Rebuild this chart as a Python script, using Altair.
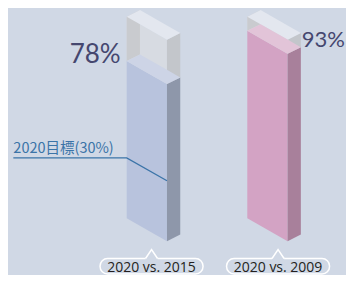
import altair as alt
import pandas as pd

# ---- data ----
labels = ["2020 vs. 2015", "2020 vs. 2009"]
values = [78, 93]
value_text = ["78%", "93%"]
target_value = 30
target_text = "2020目標(30%)"
full_scale = 100

# ---- styles ----
BG = "#d0d8e5"
front_colors = ["#b8c3dd", "#d3a3c4"]
side_colors = ["#8e97aa", "#a8809b"]
top_colors = ["#cdd4e6", "#e2c4d8"]
GLASS_FRONT = "#d7dbe2"
GLASS_STRIP = "#c9cbcf"
GLASS_SIDE = "#c3c6cb"
GLASS_TOP = "#e3e7ef"
LABEL_COLOR = "#45476f"
TARGET_COLOR = "#3b74a8"

# ---- geometry (x in bar-slot units, y in percent units) ----
W = 0.334   # front face width
D = 0.110   # depth
S = 11.4    # front face skew (drop across width)
R = 3.3     # side rise across depth
X_DOMAIN = [-0.9842, 1.8184]
Y_DOMAIN = [-28.13, 104.32]
PILL_CENTER = [0.206, 1.255]
PILL_HALF = 0.427
PILL_TOP = -19.94
PILL_BOTTOM = -27.63
NOTCH_H = 4.46
NOTCH_HALF = 0.05
TARGET_START = -0.940

xs = alt.Scale(domain=X_DOMAIN, nice=False, zero=False)
ys = alt.Scale(domain=Y_DOMAIN, nice=False, zero=False)


def front(L, lo, hi):
    return [(L, hi, lo), (L + W, hi - S, lo - S)]


def side(L, lo, hi):
    return [(L + W, hi - S, lo - S), (L + W + D, hi - S + R, lo - S + R)]


def strip(L, lo, hi):
    return [(L, hi, lo), (L + D, hi + R, lo + R)]


def top(L, h):
    return [
        (L, h, h),
        (L + D, h + R, h - S * D / W),
        (L + W, h + R - S * (W - D) / W, h - S),
        (L + W + D, h - S + R, h - S + R),
    ]


def face_layer(rows):
    df = pd.DataFrame(rows, columns=["x", "y", "y2", "key", "c"])
    return alt.Chart(df).mark_area(interpolate="linear").encode(
        x=alt.X("x:Q", scale=xs, axis=None),
        y=alt.Y("y:Q", scale=ys, axis=None, stack=None),
        y2="y2:Q",
        detail="key:N",
        color=alt.Color("c:N", scale=None),
    )


def build(fn, colorfn):
    rows = []
    for i, v in enumerate(values):
        for (x, y, y2) in fn(i, v):
            rows.append((x, y, y2, f"b{i}", colorfn(i)))
    return face_layer(rows)


layers = [
    build(lambda i, v: front(i, v, full_scale), lambda i: GLASS_FRONT),
    build(lambda i, v: strip(i, v, full_scale), lambda i: GLASS_STRIP),
    build(lambda i, v: side(i, v, full_scale), lambda i: GLASS_SIDE),
    build(lambda i, v: top(i, full_scale), lambda i: GLASS_TOP),
    build(lambda i, v: front(i, 0, v), lambda i: front_colors[i]),
    build(lambda i, v: side(i, 0, v), lambda i: side_colors[i]),
    build(lambda i, v: top(i, v), lambda i: top_colors[i]),
]

# target line
tdf = pd.DataFrame({
    "x": [TARGET_START, 0, W],
    "y": [target_value, target_value, target_value - S],
})
layers.append(alt.Chart(tdf).mark_line(color=TARGET_COLOR, strokeWidth=1.3).encode(
    x=alt.X("x:Q", scale=xs), y=alt.Y("y:Q", scale=ys)))
layers.append(alt.Chart(pd.DataFrame({"x": [TARGET_START], "y": [target_value], "t": [target_text]}))
              .mark_text(align="left", baseline="alphabetic", dy=-5, font="Noto Sans CJK JP",
                         fontSize=14.5, color=TARGET_COLOR)
              .encode(x=alt.X("x:Q", scale=xs), y=alt.Y("y:Q", scale=ys), text="t:N"))

# value labels
l0 = pd.DataFrame({"x": [0.0], "y": [values[0]], "t": [value_text[0]]})
layers.append(alt.Chart(l0).mark_text(align="right", baseline="alphabetic", dx=-6, dy=2,
                                      font="Lato", fontSize=26, color=LABEL_COLOR)
              .encode(x=alt.X("x:Q", scale=xs), y=alt.Y("y:Q", scale=ys), text="t:N"))
l1 = pd.DataFrame({"x": [1 + W + D], "y": [values[1] - S + R], "t": [value_text[1]]})
layers.append(alt.Chart(l1).mark_text(align="left", baseline="alphabetic", dx=1,
                                      font="Lato", fontSize=22, color=LABEL_COLOR)
              .encode(x=alt.X("x:Q", scale=xs), y=alt.Y("y:Q", scale=ys), text="t:N"))

# pills
pdf = pd.DataFrame({
    "x": [c - PILL_HALF for c in PILL_CENTER],
    "x2": [c + PILL_HALF for c in PILL_CENTER],
    "y": [PILL_TOP] * 2, "y2": [PILL_BOTTOM] * 2,
    "xc": PILL_CENTER, "yc": [(PILL_TOP + PILL_BOTTOM) / 2] * 2,
    "t": labels,
})
layers.append(alt.Chart(pdf).mark_rect(fillOpacity=0, stroke="white", strokeWidth=1.5, cornerRadius=7.5)
              .encode(x=alt.X("x:Q", scale=xs), x2="x2:Q", y=alt.Y("y:Q", scale=ys), y2="y2:Q"))
nrows = []
for i, c in enumerate(PILL_CENTER):
    nrows += [(c - NOTCH_HALF, PILL_TOP, PILL_TOP - 0.8, f"n{i}"),
              (c, PILL_TOP + NOTCH_H, PILL_TOP - 0.8, f"n{i}"),
              (c + NOTCH_HALF, PILL_TOP, PILL_TOP - 0.8, f"n{i}")]
ndf = pd.DataFrame(nrows, columns=["x", "y", "y2", "key"])
layers.append(alt.Chart(ndf).mark_area(color=BG, interpolate="linear").encode(
    x=alt.X("x:Q", scale=xs), y=alt.Y("y:Q", scale=ys, stack=None), y2="y2:Q", detail="key:N"))
layers.append(alt.Chart(ndf).mark_line(color="white", strokeWidth=1.5).encode(
    x=alt.X("x:Q", scale=xs), y=alt.Y("y:Q", scale=ys), detail="key:N"))
layers.append(alt.Chart(pdf).mark_text(align="center", baseline="middle", dy=1.5,
                                       font="Open Sans", fontSize=14, color="#231f20")
              .encode(x=alt.X("xc:Q", scale=xs), y=alt.Y("yc:Q", scale=ys), text="t:N"))

chart = alt.layer(*layers).properties(
    width=338, height=267,
    autosize=alt.AutoSizeParams(type="none"),
    padding=0,
    background=BG,
).configure_view(stroke=None)

chart.save("out.html", embed_options={"renderer": "svg", "actions": False})
